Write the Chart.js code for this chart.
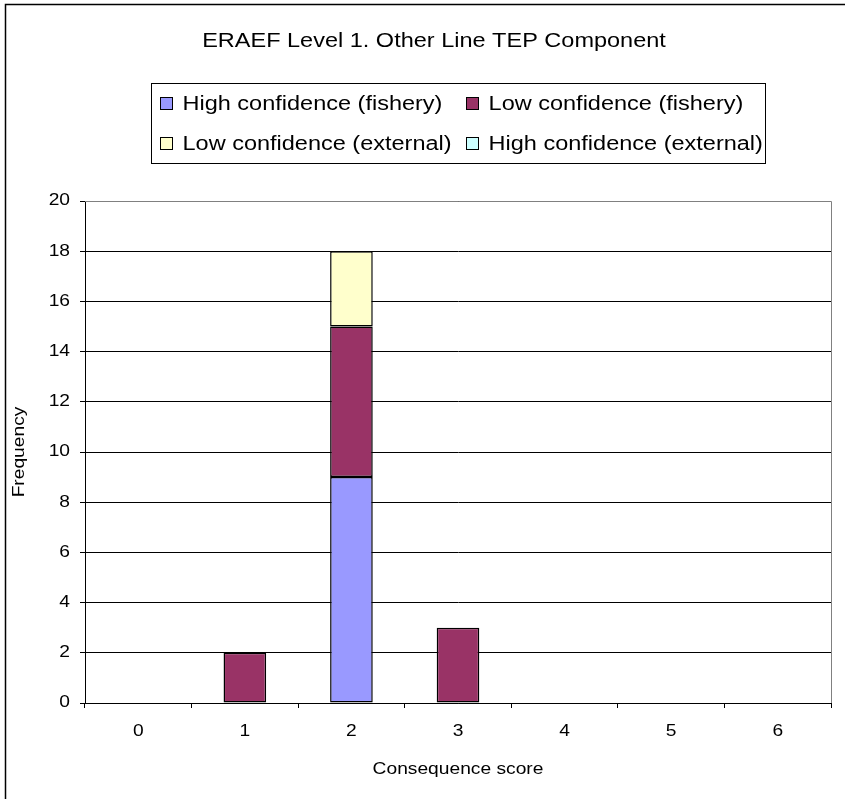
<!DOCTYPE html>
<html>
<head>
<meta charset="utf-8">
<title>ERAEF Level 1. Other Line TEP Component</title>
<script src="https://cdn.jsdelivr.net/npm/chart.js@4/dist/chart.umd.min.js"></script>
<style>
  html, body { margin: 0; padding: 0; background: #fff; }
  #wrap { width: 845px; height: 799px; position: relative; }
</style>
</head>
<body>
<div id="wrap"><canvas id="chart" width="845" height="799"></canvas></div>
<script>
// ---- data ----
const chartTitle = 'ERAEF Level 1. Other Line TEP Component';
const xTitle = 'Consequence score';
const yTitle = 'Frequency';
const scores = ['0', '1', '2', '3', '4', '5', '6'];
const highFishery  = [0, 0, 9, 0, 0, 0, 0];
const lowFishery   = [0, 2, 6, 3, 0, 0, 0];
const lowExternal  = [0, 0, 3, 0, 0, 0, 0];
const highExternal = [0, 0, 0, 0, 0, 0, 0];
const seriesNames = [
  'High confidence (fishery)',
  'Low confidence (fishery)',
  'Low confidence (external)',
  'High confidence (external)'
];
const seriesColors = ['#9999FF', '#993366', '#FFFFCC', '#CCFFFF'];
const yMin = 0, yMax = 20, yStep = 2;

const FONT = '"Liberation Sans", Arial, sans-serif';
const AXIS_STRETCH = 1.2;     // wide lettering for axis labels
const HEADER_STRETCH = 1.175; // wide lettering for heading and key

// Draw text on this context horizontally widened about its anchor point.
function widenText(ctx, sx) {
  const baseFill = CanvasRenderingContext2D.prototype.fillText;
  ctx.textStretch = sx;
  ctx.fillText = function (text, x, y, maxWidth) {
    const k = this.textStretch;
    this.save();
    this.translate(x, y);
    this.scale(k, 1);
    if (maxWidth === undefined) baseFill.call(this, text, 0, 0);
    else baseFill.call(this, text, 0, 0, maxWidth / k);
    this.restore();
  };
}

// white page, outer frame, heading and boxed key
const pagePlugin = {
  id: 'page',
  beforeDraw(chart) {
    const { ctx, width, height } = chart;
    ctx.save();
    ctx.fillStyle = '#fff';
    ctx.fillRect(0, 0, width, height);
    ctx.restore();
  },
  beforeDatasetsDraw(chart) {
    // grey frame on the top and right of the plot area
    const { ctx, chartArea: a } = chart;
    ctx.save();
    ctx.strokeStyle = '#808080';
    ctx.lineWidth = 1;
    ctx.beginPath();
    ctx.moveTo(a.left, a.top + 0.5);
    ctx.lineTo(a.right + 0.5, a.top + 0.5);
    ctx.lineTo(a.right + 0.5, a.bottom);
    ctx.stroke();
    ctx.restore();
  },
  afterDraw(chart) {
    const { ctx, chartArea: a, height, width } = chart;
    const cx = (a.left + a.right) / 2;
    ctx.save();
    const prevStretch = ctx.textStretch;
    ctx.textStretch = HEADER_STRETCH;

    // outer frame (left and top edges)
    ctx.strokeStyle = '#000';
    ctx.lineWidth = 1.5;
    ctx.beginPath();
    ctx.moveTo(5.5, height);
    ctx.lineTo(5.5, 4.5);
    ctx.lineTo(width, 4.5);
    ctx.stroke();

    ctx.fillStyle = '#000';
    ctx.textBaseline = 'middle';
    ctx.font = '20px ' + FONT;

    // heading
    ctx.textAlign = 'center';
    ctx.fillText(chartTitle, cx - 24, a.top - 160);

    // key: two rows of two entries inside a box
    ctx.textAlign = 'left';
    const ds = chart.data.datasets;
    const w = ds.map(d => ctx.measureText(d.label).width * HEADER_STRETCH);
    const col1 = Math.max(w[0], w[2]);
    const col2 = Math.max(w[1], w[3]);
    const padL = 8, mk = 12, txtOff = 23, colGap = 14, padR = 3;
    const boxW = padL + txtOff + col1 + colGap + txtOff + col2 + padR;
    const boxL = Math.round(cx - boxW / 2) + 0.5;
    const boxT = a.top - 118 + 0.5;
    const boxB = a.top - 38 + 0.5;
    ctx.strokeStyle = '#000';
    ctx.lineWidth = 1;
    ctx.strokeRect(boxL, boxT, Math.round(boxW), boxB - boxT);

    const rowY = [a.top - 98, a.top - 58];
    const colX = [boxL + padL, boxL + padL + txtOff + col1 + colGap];
    ds.forEach((d, i) => {
      const r = Math.floor(i / 2), c = i % 2;
      const mx = Math.round(colX[c]) + 0.5;
      const my = Math.round(rowY[r] - mk / 2) + 0.5;
      ctx.fillStyle = d.backgroundColor;
      ctx.fillRect(mx, my, mk, mk);
      ctx.strokeStyle = '#000';
      ctx.strokeRect(mx, my, mk, mk);
      ctx.fillStyle = '#000';
      ctx.fillText(d.label, colX[c] + txtOff, rowY[r] + 1);
    });
    ctx.textStretch = prevStretch;
    ctx.restore();
  }
};

const seriesData = [highFishery, lowFishery, lowExternal, highExternal];
const datasets = seriesData.map((values, i) => ({
  label: seriesNames[i],
  data: values,
  backgroundColor: seriesColors[i],
  borderColor: '#000',
  borderWidth: 1.5,
  borderSkipped: false,
  categoryPercentage: 1.0,
  barPercentage: 0.4
}));

const canvas = document.getElementById('chart');
widenText(canvas.getContext('2d'), AXIS_STRETCH);

new Chart(canvas, {
  type: 'bar',
  data: { labels: scores, datasets },
  plugins: [pagePlugin],
  options: {
    responsive: false,
    animation: false,
    events: [],
    layout: { padding: { top: 201, right: 14, bottom: 0, left: 0 } },
    plugins: {
      legend: { display: false },
      title: { display: false },
      tooltip: { enabled: false }
    },
    scales: {
      x: {
        stacked: true,
        offset: true,
        grid: {
          offset: true,
          drawOnChartArea: false,
          drawTicks: true,
          tickLength: 5,
          color: '#000'
        },
        border: { display: true, color: '#000', width: 1 },
        ticks: {
          color: '#000',
          padding: 14,
          maxRotation: 0,
          autoSkip: false,
          font: { family: FONT, size: 16 }
        },
        title: {
          display: true,
          text: xTitle,
          color: '#000',
          font: { family: FONT, size: 16 },
          padding: { top: 0, bottom: 20 }
        },
        afterFit(scale) { scale.height = 96; }
      },
      y: {
        stacked: true,
        min: yMin,
        max: yMax,
        ticks: {
          stepSize: yStep,
          color: '#000',
          padding: 10,
          font: { family: FONT, size: 16 }
        },
        grid: {
          color: '#000',
          lineWidth: 1,
          drawTicks: true,
          tickLength: 5
        },
        border: { display: true, color: '#000', width: 1 },
        title: {
          display: true,
          text: yTitle,
          color: '#000',
          font: { family: FONT, size: 16 },
          padding: { top: 10, bottom: 0 }
        },
        afterFit(scale) { scale.width = 85; }
      }
    }
  }
});
</script>
</body>
</html>
